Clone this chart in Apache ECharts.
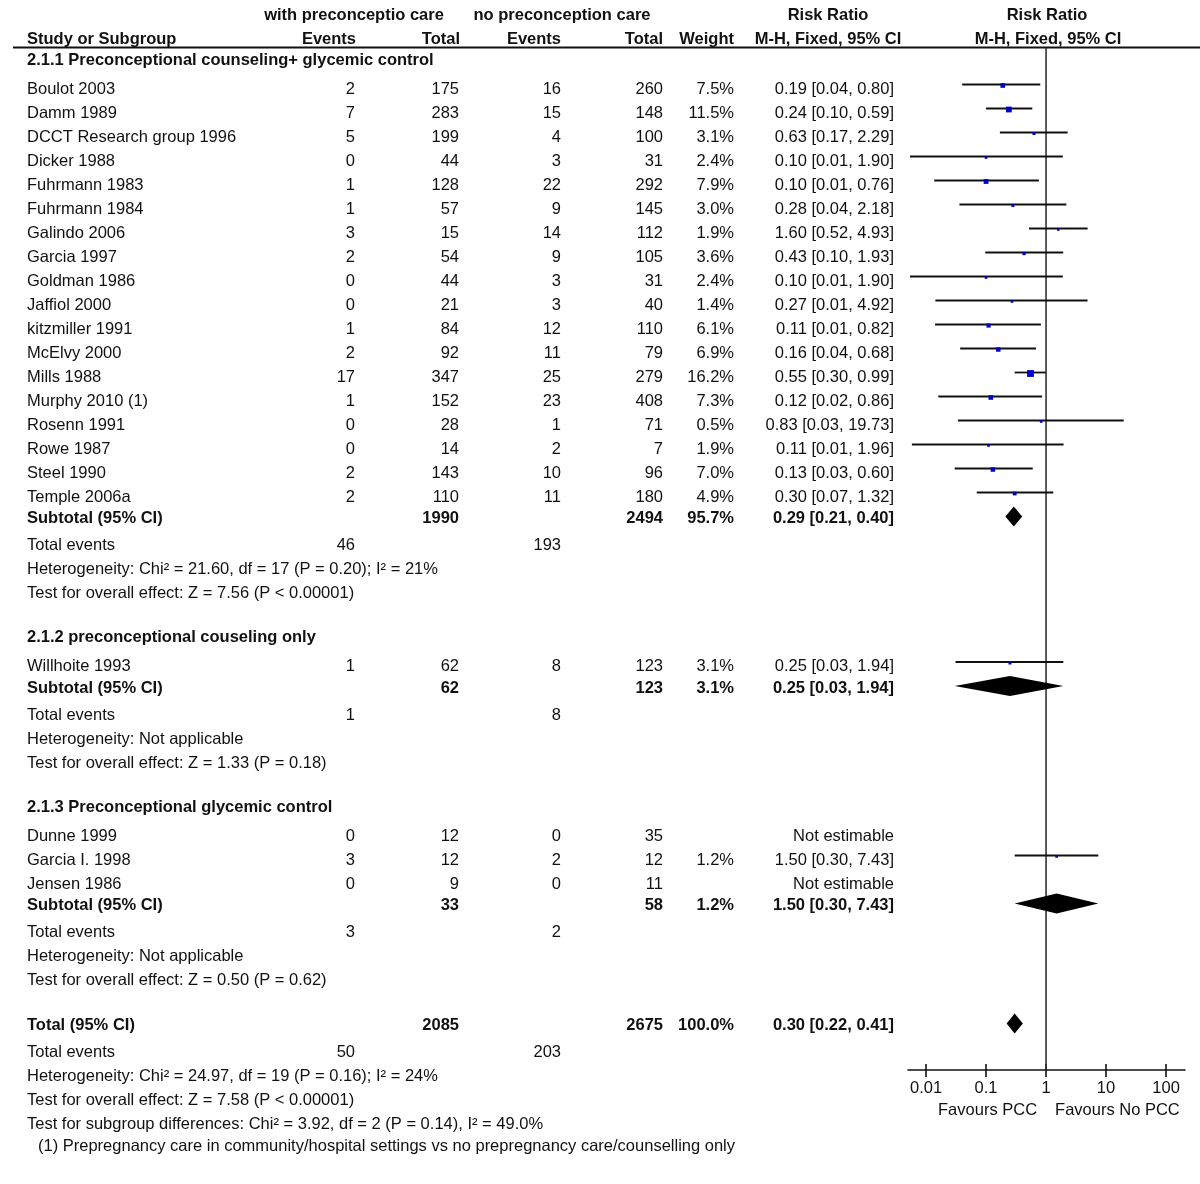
<!DOCTYPE html>
<html>
<head>
<meta charset="utf-8">
<title>Forest plot - preconception care</title>
<script src="https://cdn.jsdelivr.net/npm/echarts@6/dist/echarts.min.js"></script>
<style>
  html, body { margin: 0; padding: 0; background: #fff; }
  #chart { width: 1200px; height: 1184px; }
</style>
</head>
<body>
<div id="chart"></div>
<script>
// ---- data ----
const studyNames = ['Boulot 2003', 'Damm 1989', 'DCCT Research group 1996', 'Dicker 1988', 'Fuhrmann 1983',
  'Fuhrmann 1984', 'Galindo 2006', 'Garcia 1997', 'Goldman 1986', 'Jaffiol 2000', 'kitzmiller 1991',
  'McElvy 2000', 'Mills 1988', 'Murphy 2010 (1)', 'Rosenn 1991', 'Rowe 1987', 'Steel 1990', 'Temple 2006a',
  'Willhoite 1993',
  'Dunne 1999', 'Garcia I. 1998', 'Jensen 1986']
const studyGroup = [0, 0, 0, 0, 0, 0, 0, 0, 0, 0, 0, 0, 0, 0, 0, 0, 0, 0, 1, 2, 2, 2]
const eventsPCC = [2, 7, 5, 0, 1, 1, 3, 2, 0, 0, 1, 2, 17, 1, 0, 0, 2, 2, 1, 0, 3, 0]
const totalPCC = [175, 283, 199, 44, 128, 57, 15, 54, 44, 21, 84, 92, 347, 152, 28, 14, 143, 110, 62, 12, 12, 9]
const eventsNoPCC = [16, 15, 4, 3, 22, 9, 14, 9, 3, 3, 12, 11, 25, 23, 1, 2, 10, 11, 8, 0, 2, 0]
const totalNoPCC = [260, 148, 100, 31, 292, 145, 112, 105, 31, 40, 110, 79, 279, 408, 71, 7, 96, 180, 123, 35, 12, 11]
const weights = [7.5, 11.5, 3.1, 2.4, 7.9, 3.0, 1.9, 3.6, 2.4, 1.4, 6.1, 6.9, 16.2, 7.3, 0.5, 1.9, 7.0, 4.9, 3.1, null, 1.2, null]
const riskRatio = [0.19, 0.24, 0.63, 0.10, 0.10, 0.28, 1.60, 0.43, 0.10, 0.27, 0.11, 0.16, 0.55, 0.12, 0.83, 0.11, 0.13, 0.30, 0.25, null, 1.50, null]
const ciLow = [0.04, 0.10, 0.17, 0.0054, 0.0137, 0.036, 0.52, 0.097, 0.0054, 0.0143, 0.0141, 0.037, 0.30, 0.016, 0.034, 0.0058, 0.03, 0.07, 0.031, null, 0.30, null]
const ciHigh = [0.80, 0.59, 2.29, 1.90, 0.76, 2.18, 4.93, 1.93, 1.90, 4.92, 0.82, 0.68, 0.99, 0.86, 19.73, 1.96, 0.60, 1.32, 1.94, null, 7.43, null]

const subgroupTitles = ['2.1.1 Preconceptional counseling+ glycemic control', '2.1.2 preconceptional couseling only', '2.1.3 Preconceptional glycemic control']
const subTotalPCC = [1990, 62, 33]
const subTotalNoPCC = [2494, 123, 58]
const subEventsPCC = [46, 1, 3]
const subEventsNoPCC = [193, 8, 2]
const subWeight = [95.7, 3.1, 1.2]
const subRR = [0.29, 0.25, 1.50]
const subLow = [0.21, 0.03, 0.30]
const subHigh = [0.40, 1.94, 7.43]
const subHeterogeneity = ['Heterogeneity: Chi² = 21.60, df = 17 (P = 0.20); I² = 21%', 'Heterogeneity: Not applicable', 'Heterogeneity: Not applicable']
const subEffectTest = ['Test for overall effect: Z = 7.56 (P < 0.00001)', 'Test for overall effect: Z = 1.33 (P = 0.18)', 'Test for overall effect: Z = 0.50 (P = 0.62)']

const overallTotals = [2085, 2675]
const overallEvents = [50, 203]
const overallWeight = 100.0
const overallRR = [0.30, 0.22, 0.41]
const overallNotes = [
  'Heterogeneity: Chi² = 24.97, df = 19 (P = 0.16); I² = 24%',
  'Test for overall effect: Z = 7.58 (P < 0.00001)',
  'Test for subgroup differences: Chi² = 3.92, df = 2 (P = 0.14), I² = 49.0%'
]
const footnote = '(1) Prepregnancy care in community/hospital settings vs no prepregnancy care/counselling only'

const tickValues = [0.01, 0.1, 1, 10, 100]
const favourLabels = ['Favours PCC', 'Favours No PCC']

// ---- layout ----
const FONT = '"Liberation Sans", Arial, Helvetica, sans-serif'
const FONT_SIZE = 16.5
const col = { label: 27, ev1: 355, tot1: 459, ev2: 561, tot2: 663, weight: 734, ci: 894 }
// text sits a little below the plotted marks in the original
const textShift = { normal: 4.5, bold: 2 }

const fmtCI = (r, l, h) => `${r.toFixed(2)} [${l.toFixed(2)}, ${h.toFixed(2)}]`
const pct = w => w.toFixed(1) + '%'

let cursor = 58
const step = g => (cursor += g)
const textRows = []   // {y, cells}
const studyData = []  // [rr, lo, hi, y, weight]
const diamondData = [] // [rr, lo, hi, y]

const cell = (x, text, align, bold) => ({ x, text: String(text), align: align || 'right', bold: !!bold })

subgroupTitles.forEach((title, g) => {
  if (g > 0) step(46.5)
  textRows.push({ y: cursor, cells: [cell(col.label, title, 'left', true)] })
  let first = true
  studyNames.forEach((name, i) => {
    if (studyGroup[i] !== g) return
    step(first ? 26.5 : 24)
    first = false
    const cells = [
      cell(col.label, name, 'left'),
      cell(col.ev1, eventsPCC[i]), cell(col.tot1, totalPCC[i]),
      cell(col.ev2, eventsNoPCC[i]), cell(col.tot2, totalNoPCC[i])
    ]
    if (riskRatio[i] != null) {
      cells.push(cell(col.weight, pct(weights[i])))
      cells.push(cell(col.ci, fmtCI(riskRatio[i], ciLow[i], ciHigh[i])))
      studyData.push([riskRatio[i], ciLow[i], ciHigh[i], cursor, weights[i]])
    } else {
      cells.push(cell(col.ci, 'Not estimable'))
    }
    textRows.push({ y: cursor, cells })
  })
  step(24)
  textRows.push({ y: cursor, cells: [
    cell(col.label, 'Subtotal (95% CI)', 'left', true),
    cell(col.tot1, subTotalPCC[g], 'right', true), cell(col.tot2, subTotalNoPCC[g], 'right', true),
    cell(col.weight, pct(subWeight[g]), 'right', true),
    cell(col.ci, fmtCI(subRR[g], subLow[g], subHigh[g]), 'right', true)
  ] })
  diamondData.push([subRR[g], subLow[g], subHigh[g], cursor])
  step(24.5)
  textRows.push({ y: cursor, cells: [cell(col.label, 'Total events', 'left'), cell(col.ev1, subEventsPCC[g]), cell(col.ev2, subEventsNoPCC[g])] })
  step(24)
  textRows.push({ y: cursor, cells: [cell(col.label, subHeterogeneity[g], 'left')] })
  step(24)
  textRows.push({ y: cursor, cells: [cell(col.label, subEffectTest[g], 'left')] })
})

step(47.5)
textRows.push({ y: cursor, cells: [
  cell(col.label, 'Total (95% CI)', 'left', true),
  cell(col.tot1, overallTotals[0], 'right', true), cell(col.tot2, overallTotals[1], 'right', true),
  cell(col.weight, pct(overallWeight), 'right', true),
  cell(col.ci, fmtCI(overallRR[0], overallRR[1], overallRR[2]), 'right', true)
] })
diamondData.push([overallRR[0], overallRR[1], overallRR[2], cursor])
step(24)
textRows.push({ y: cursor, cells: [cell(col.label, 'Total events', 'left'), cell(col.ev1, overallEvents[0]), cell(col.ev2, overallEvents[1])] })
overallNotes.forEach(note => {
  step(24)
  textRows.push({ y: cursor, cells: [cell(col.label, note, 'left')] })
})
step(22)
textRows.push({ y: cursor, cells: [cell(38, footnote, 'left')] })

// ---- chart ----
const chart = echarts.init(document.getElementById('chart'))

const logAxis = {
  type: 'log',
  logBase: 10,
  min: 0.005,
  max: 207,
  position: 'bottom',
  splitLine: { show: false }
}

const option = {
  animation: false,
  backgroundColor: '#fff',
  grid: { left: 908, right: 15, top: 48, bottom: 114 },
  xAxis: [
    Object.assign({}, logAxis, {
      axisLine: { show: true, onZero: false, lineStyle: { color: '#111', width: 1.6 } },
      axisTick: { show: true, customValues: tickValues, length: 7, lineStyle: { color: '#111', width: 1.6 } },
      axisLabel: {
        show: true, customValues: tickValues, margin: 10,
        fontSize: FONT_SIZE, fontFamily: FONT, color: '#111',
        formatter: v => String(+Number(v).toPrecision(3))
      }
    }),
    Object.assign({}, logAxis, {
      axisLine: { show: false },
      axisTick: { show: true, inside: true, customValues: tickValues, length: 6, lineStyle: { color: '#111', width: 1.6 } },
      axisLabel: { show: false }
    })
  ],
  yAxis: { type: 'value', inverse: true, min: 48, max: 1070, show: false },
  series: [
    {
      // line of no effect
      type: 'custom',
      data: [[1]],
      encode: { x: 0 },
      renderItem: (params, api) => {
        const cs = params.coordSys
        const x = api.coord([api.value(0), cs.y])[0]
        return {
          type: 'line',
          shape: { x1: x, y1: cs.y, x2: x, y2: cs.y + cs.height },
          style: { stroke: '#333', lineWidth: 1.6 }
        }
      }
    },
    {
      // study estimates with CIs
      type: 'custom',
      clip: false,
      data: studyData,
      encode: { x: [0, 1, 2], y: 3 },
      renderItem: (params, api) => {
        const y = api.value(3)
        const pLo = api.coord([api.value(1), y])
        const pHi = api.coord([api.value(2), y])
        const pMid = api.coord([api.value(0), y])
        const s = Math.max(2.6, 1.7 * Math.sqrt(api.value(4)))
        return {
          type: 'group',
          children: [
            { type: 'line', shape: { x1: pLo[0], y1: pLo[1], x2: pHi[0], y2: pHi[1] }, style: { stroke: '#111', lineWidth: 1.8 } },
            { type: 'rect', shape: { x: pMid[0] - s / 2, y: pMid[1] - s / 2 + 1, width: s, height: s }, style: { fill: '#0000c8' } }
          ]
        }
      }
    },
    {
      // pooled diamonds
      type: 'custom',
      clip: false,
      data: diamondData,
      encode: { x: [0, 1, 2], y: 3 },
      renderItem: (params, api) => {
        const y = api.value(3)
        const pLo = api.coord([api.value(1), y])
        const pHi = api.coord([api.value(2), y])
        const pMid = api.coord([api.value(0), y])
        const h = 10
        return {
          type: 'polygon',
          shape: { points: [[pLo[0], pLo[1]], [pMid[0], pMid[1] - h], [pHi[0], pHi[1]], [pMid[0], pMid[1] + h]] },
          style: { fill: '#000' }
        }
      }
    }
  ]
}

chart.setOption(option)

// ---- table text and headers ----
const textEl = (x, y, text, align, bold) => ({
  type: 'text',
  x, y,
  silent: true,
  style: {
    text, fill: '#111', fontSize: FONT_SIZE, fontFamily: FONT,
    fontWeight: bold ? 'bold' : 'normal', align, verticalAlign: 'middle'
  }
})

const elements = []
const rowPx = v => chart.convertToPixel({ yAxisIndex: 0 }, v)

// header
const h1 = 15, h2 = 39
elements.push(textEl(354, h1, 'with preconceptio care', 'center', true))
elements.push(textEl(562, h1, 'no preconception care', 'center', true))
elements.push(textEl(828, h1, 'Risk Ratio', 'center', true))
elements.push(textEl(1047, h1, 'Risk Ratio', 'center', true))
elements.push(textEl(col.label, h2, 'Study or Subgroup', 'left', true))
elements.push(textEl(col.ev1 + 1, h2, 'Events', 'right', true))
elements.push(textEl(col.tot1 + 1, h2, 'Total', 'right', true))
elements.push(textEl(col.ev2, h2, 'Events', 'right', true))
elements.push(textEl(col.tot2, h2, 'Total', 'right', true))
elements.push(textEl(col.weight, h2, 'Weight', 'right', true))
elements.push(textEl(828, h2, 'M-H, Fixed, 95% CI', 'center', true))
elements.push(textEl(1048, h2, 'M-H, Fixed, 95% CI', 'center', true))
elements.push({ type: 'line', silent: true, shape: { x1: 13, y1: 47.5, x2: 1200, y2: 47.5 }, style: { stroke: '#111', lineWidth: 2 } })

textRows.forEach(r => {
  const y = rowPx(r.y)
  r.cells.forEach(c => elements.push(textEl(c.x, y + (c.bold ? textShift.bold : textShift.normal), c.text, c.align, c.bold)))
})

// favours labels under the axis
const onePx = chart.convertToPixel({ xAxisIndex: 0 }, 1)
elements.push(textEl(onePx - 9, 1110, favourLabels[0], 'right', false))
elements.push(textEl(onePx + 9, 1110, favourLabels[1], 'left', false))

chart.setOption({ graphic: { elements } })
</script>
</body>
</html>
